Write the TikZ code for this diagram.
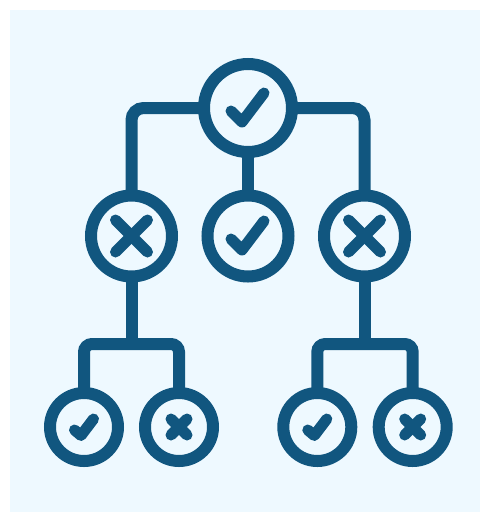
\documentclass[tikz,border=0pt]{standalone}
\definecolor{ink}{HTML}{11567F}
\definecolor{paper}{HTML}{EEF9FF}
\tikzset{
  x=1pt,y=-1pt,
  ring/.style={circle,draw=ink,line width=12pt,inner sep=0pt,outer sep=0pt,minimum size=#1},
  link/.style={draw=ink,line width=12pt},
  bigmark/.style={draw=ink,line width=11pt,line cap=round,line join=round},
  smallmark/.style={draw=ink,line width=11pt,line cap=round,line join=round},
}
\begin{document}
\begin{tikzpicture}
\useasboundingbox (0,0) rectangle (480,512);
\fill[paper] (10,10) rectangle (480,512);
\node[ring=88pt] (top) at (248,108) {};
\node[ring=81pt] (ml) at (131.5,236) {};
\node[ring=81pt] (mc) at (248,236) {};
\node[ring=81pt] (mr) at (364.5,236) {};
\node[ring=68pt] (b1) at (84,427) {};
\node[ring=68pt] (b2) at (179,427) {};
\node[ring=68pt] (b3) at (317.3,427) {};
\node[ring=68pt] (b4) at (412.7,427) {};
\coordinate (jl) at (ml |- 0,344);
\coordinate (jr) at (mr |- 0,344);
\draw[link,rounded corners=12pt] (top.west) -| (ml.north);
\draw[link,rounded corners=12pt] (top.east) -| (mr.north);
\draw[link] (top.south) -- (mc.north);
\draw[link] (ml.south) -- (jl);
\draw[link] (mr.south) -- (jr);
\draw[link,rounded corners=8pt] (b1.north) |- (jl) -| (b2.north);
\draw[link,rounded corners=8pt] (b3.north) |- (jr) -| (b4.north);
\draw[bigmark] ([shift={(-17,3)}]top.center) -- ([shift={(-6,14)}]top.center) -- ([shift={(16,-15)}]top.center);
\draw[bigmark] ([shift={(-17,3)}]mc.center) -- ([shift={(-6,14)}]mc.center) -- ([shift={(16,-15)}]mc.center);
\foreach \n in {ml,mr}{
  \draw[bigmark] ([shift={(-16,-16)}]\n.center) -- ([shift={(16,16)}]\n.center);
  \draw[bigmark] ([shift={(-16,16)}]\n.center) -- ([shift={(16,-16)}]\n.center);
}
\foreach \n in {b1,b3}{
  \draw[smallmark] ([shift={(-9.5,3)}]\n.center) -- ([shift={(-3,8.5)}]\n.center) -- ([shift={(9.5,-8)}]\n.center);
}
\foreach \n in {b2,b4}{
  \draw[smallmark] ([shift={(-8,-8)}]\n.center) -- ([shift={(8,8)}]\n.center);
  \draw[smallmark] ([shift={(-8,8)}]\n.center) -- ([shift={(8,-8)}]\n.center);
}
\end{tikzpicture}
\end{document}
